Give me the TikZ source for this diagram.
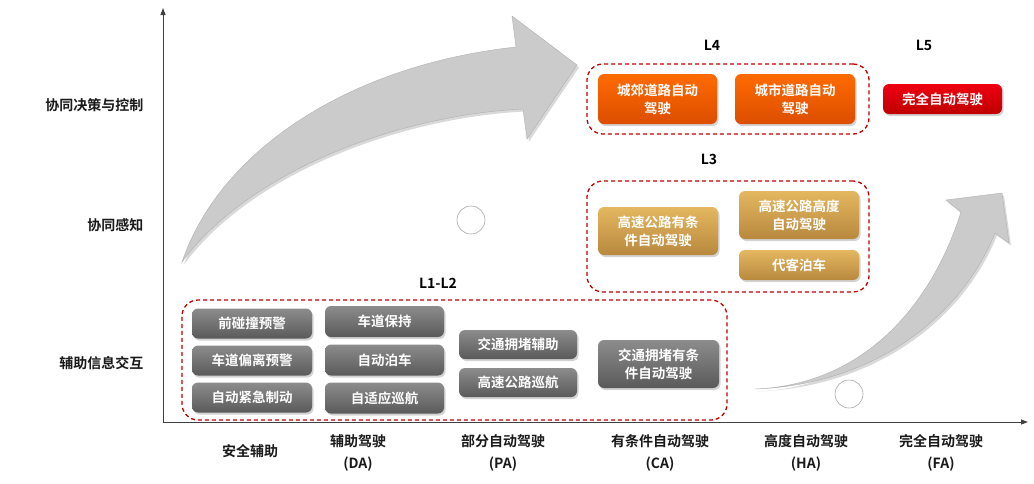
\documentclass[tikz,border=0pt]{standalone}
\usepackage{fontspec}
\setmainfont{Noto Sans CJK SC}[BoldFont={Noto Sans CJK SC Bold}]
\usetikzlibrary{arrows.meta,shadows}
\definecolor{dashred}{HTML}{C00000}
\definecolor{axisc}{HTML}{404040}
\definecolor{arrowfill}{HTML}{CBCBCB}
\definecolor{arrowline}{HTML}{B0B0B0}
\definecolor{gtop}{HTML}{8C8C8C}
\definecolor{gbot}{HTML}{5A5A5A}
\definecolor{otop}{HTML}{FF6A00}
\definecolor{obot}{HTML}{DC4E00}
\definecolor{ytop}{HTML}{E4B760}
\definecolor{ybot}{HTML}{B8893E}
\definecolor{rtop}{HTML}{EE0010}
\definecolor{rbot}{HTML}{BE0000}
\tikzset{
  basebox/.style={rounded corners=6pt, text=white, font=\bfseries\fontsize{13.5}{18}\selectfont, align=center, inner sep=0pt,
    drop shadow={opacity=0.35, shadow xshift=1.5pt, shadow yshift=-2pt}},
  graybox/.style={basebox, top color=gtop, bottom color=gbot},
  orangebox/.style={basebox, top color=otop, bottom color=obot},
  goldbox/.style={basebox, top color=ytop, bottom color=ybot},
  redbox/.style={basebox, top color=rtop, bottom color=rbot},
  groupbox/.style={draw=dashred, dashed, dash pattern=on 4pt off 3pt, line width=1.3pt, rounded corners=16pt, inner sep=0pt},
  lvl/.style={font=\bfseries\fontsize{14}{16}\selectfont, text=black},
  ylab/.style={font=\bfseries\fontsize{14}{16}\selectfont, text=black!90, anchor=east},
  xlab/.style={font=\bfseries\fontsize{14}{22}\selectfont, text=black!90, align=center},
  axis/.style={draw=axisc, line width=1pt, -{Triangle[length=7pt,width=5pt]}},
  bigarrow/.style={fill=arrowfill, draw=arrowline, line width=0.4pt,
    drop shadow={opacity=0.3, shadow xshift=2pt, shadow yshift=-2.5pt}},
  dot/.style={circle, draw=gray!70, line width=0.6pt, minimum size=28pt, inner sep=0pt}
}
\begin{document}
\begin{tikzpicture}[x=1pt,y=-1pt]
\useasboundingbox (0,0) rectangle (1034,483);

% axes
\coordinate (o) at (163,422);
\coordinate (ytop) at (163,8);
\coordinate (xend) at (1028,422);
\draw[axis] (o) -- (ytop);
\draw[axis] (o) -- (xend);

% big curved arrows
\path[bigarrow] (182,262) .. controls (220,150) and (350,65) .. (516,47) -- (512,16) -- (577,65) -- (527,139) -- (523,109)
  .. controls (400,115) and (250,170) .. (182,262) -- cycle;
\path[bigarrow] (755,389) .. controls (860,385) and (930,310) .. (961,212) -- (946,200) -- (1002,193) -- (1009,243) -- (995,233)
  .. controls (960,320) and (870,385) .. (755,389) -- cycle;

% circles
\node[dot] (c1) at (471,220) {};
\node[dot] (c2) at (849,394) {};

% y labels
\node[ylab] (y1) at (147,105) {协同决策与控制};
\node[ylab] (y2) at (147,225) {协同感知};
\node[ylab] (y3) at (147,363) {辅助信息交互};

% x labels
\node[xlab] (x1) at (250,451) {安全辅助};
\node[xlab] (x2) at (358,453) {辅助驾驶\\(DA)};
\node[xlab] (x3) at (503,453) {部分自动驾驶\\(PA)};
\node[xlab] (x4) at (660,453) {有条件自动驾驶\\(CA)};
\node[xlab] (x5) at (806,453) {高度自动驾驶\\(HA)};
\node[xlab] (x6) at (941,453) {完全自动驾驶\\(FA)};

% group frames
\node[groupbox, minimum width=545pt, minimum height=120pt] (g12) at (454.5,360) {};
\node[groupbox, minimum width=282pt, minimum height=111pt] (g3) at (728,236.5) {};
\node[groupbox, minimum width=282pt, minimum height=70pt] (g4) at (728,99) {};

% level labels
\node[lvl] (l12) at (438,283) {L1-L2};
\node[lvl] (l3) at (709,159) {L3};
\node[lvl] (l4) at (712,45) {L4};
\node[lvl] (l5) at (924,45) {L5};

% L1-L2 boxes
\node[graybox, minimum width=120pt, minimum height=30pt] (a1) at (252,323.5) {前碰撞预警};
\node[graybox, minimum width=120pt, minimum height=30pt] (a2) at (252,360.5) {车道偏离预警};
\node[graybox, minimum width=120pt, minimum height=30pt] (a3) at (252,397.5) {自动紧急制动};
\node[graybox, minimum width=119pt, minimum height=31pt] (b1) at (384.5,321.5) {车道保持};
\node[graybox, minimum width=119pt, minimum height=31pt] (b2) at (384.5,360) {自动泊车};
\node[graybox, minimum width=119pt, minimum height=31pt] (b3) at (384.5,398) {自适应巡航};
\node[graybox, minimum width=118pt, minimum height=29pt] (d1) at (518,344.5) {交通拥堵辅助};
\node[graybox, minimum width=118pt, minimum height=29pt] (d2) at (518,382.5) {高速公路巡航};
\node[graybox, minimum width=121pt, minimum height=48pt] (e1) at (658.5,364) {交通拥堵有条\\件自动驾驶};

% L3 boxes
\node[goldbox, minimum width=120pt, minimum height=48pt] (f1) at (658,231) {高速公路有条\\件自动驾驶};
\node[goldbox, minimum width=120pt, minimum height=48pt] (f2) at (799,215) {高速公路高度\\自动驾驶};
\node[goldbox, minimum width=120pt, minimum height=30pt] (f3) at (799,265) {代客泊车};

% L4 boxes
\node[orangebox, minimum width=119pt, minimum height=50pt] (h1) at (657.5,99) {城郊道路自动\\驾驶};
\node[orangebox, minimum width=120pt, minimum height=50pt] (h2) at (795,99) {城市道路自动\\驾驶};

% L5 box
\node[redbox, minimum width=119pt, minimum height=30pt] (k1) at (942.5,99) {完全自动驾驶};
\end{tikzpicture}
\end{document}
